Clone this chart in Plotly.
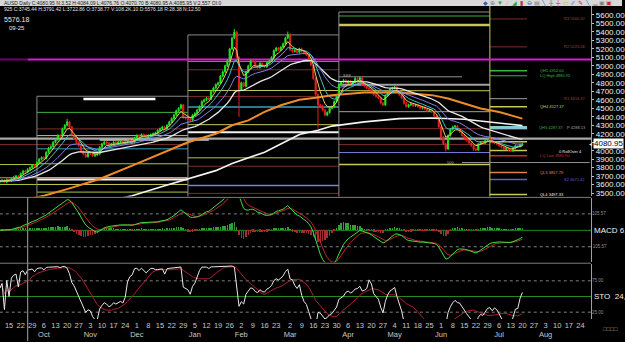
import numpy as np
import pandas as pd
import plotly.graph_objects as go

# ---------------- data ----------------
start_date = "2011-09-09"
close = [
    3640, 3650, 3630, 3660, 3645, 3670, 3690, 3700, 3680, 3730,
    3760, 3750, 3780, 3800, 3830, 3820, 3860, 3900, 3920, 3910,
    3980, 4030, 4050, 4100, 4130, 4180, 4170, 4260, 4300, 4340,
    4280, 4180, 4140, 4100, 4060, 3990, 3960, 3930, 3970, 3960,
    3940, 3950, 3960, 4040, 4080, 4100, 4090, 4070, 4080, 4100,
    4090, 4100, 4110, 4090, 4100, 4120, 4110, 4100, 4150, 4180,
    4170, 4190, 4180, 4170, 4180, 4190, 4200, 4210, 4240, 4260,
    4280, 4260, 4300, 4340, 4380, 4420, 4470, 4500, 4540, 4390,
    4380, 4370, 4360, 4420, 4440, 4480, 4520, 4580, 4600, 4620,
    4610, 4700, 4740, 4780, 4800, 4880, 4930, 5000, 5060, 5200,
    5330, 5400, 5100, 4720, 4800, 4760, 4930, 5000, 5060, 5050,
    5000, 4980, 5030, 5000, 4990, 5040, 5060, 5100, 5180, 5210,
    5190, 5220, 5260, 5330, 5370, 5190, 5170, 5180, 5160, 5200,
    5170, 5150, 5130, 5080, 5010, 4850, 4660, 4540, 4530, 4480,
    4420, 4450, 4500, 4520, 4580, 4640, 4780, 4810, 4830, 4800,
    4820, 4790, 4810, 4850, 4840, 4860, 4780, 4760, 4740, 4730,
    4690, 4660, 4640, 4620, 4560, 4540, 4650, 4700, 4730, 4740,
    4750, 4700, 4660, 4620, 4560, 4520, 4540, 4550, 4530, 4540,
    4520, 4500, 4510, 4490, 4470, 4480, 4460, 4410, 4380, 4280,
    4160, 4080, 4020, 4180, 4250, 4280, 4290, 4250, 4220, 4180,
    4150, 4120, 4090, 4060, 4020, 4010, 4080, 4100, 4090, 4120,
    4140, 4130, 4100, 4090, 4080, 4060, 4040, 4020, 4030, 4010,
    4000, 4030, 4060, 4050, 4070, 4080.95,
]
first_open = 3630
wick_up = {29: 35, 101: 35, 124: 35, 79: 10, 153: 20}
wick_dn = {103: 320, 137: 280, 192: 30, 190: 40, 204: 25}
default_wick = 14

# long moving averages (bar index, value)
orange_ma_idx = [10, 19, 29, 43, 57, 71, 81, 93, 100, 107, 114, 121, 129, 136, 143, 157, 172, 186, 193, 200, 207, 215, 225]
orange_ma_val = [3420, 3468, 3547, 3666, 3824, 3982, 4100, 4200, 4300, 4358, 4457, 4536, 4600, 4623, 4655, 4686, 4686, 4655, 4615, 4556, 4497, 4457, 4378]
white_ma_idx = [45, 57, 71, 81, 93, 100, 114, 129, 137, 143, 157, 172, 186, 200, 215, 225]
white_ma_val = [3400, 3468, 3587, 3666, 3765, 3850, 3982, 4190, 4240, 4290, 4340, 4378, 4385, 4370, 4330, 4296]

tick_dates = ["2011-09-15", "2011-09-22", "2011-09-29", "2011-10-06", "2011-10-13", "2011-10-20", "2011-10-27",
              "2011-11-03", "2011-11-10", "2011-11-17", "2011-11-24", "2011-12-01", "2011-12-08", "2011-12-15",
              "2011-12-22", "2011-12-29", "2012-01-05", "2012-01-12", "2012-01-19", "2012-01-26", "2012-02-02",
              "2012-02-09", "2012-02-16", "2012-02-23", "2012-03-02", "2012-03-09", "2012-03-16", "2012-03-23",
              "2012-03-30", "2012-04-06", "2012-04-13", "2012-04-20", "2012-04-27", "2012-05-04", "2012-05-11",
              "2012-05-18", "2012-05-25", "2012-06-01", "2012-06-08", "2012-06-15", "2012-06-22", "2012-06-29",
              "2012-07-06", "2012-07-13", "2012-07-20", "2012-07-27", "2012-08-03", "2012-08-10", "2012-08-17",
              "2012-08-24"]
month_names = {10: "Oct", 11: "Nov", 12: "Dec", 1: "Jan", 2: "Feb", 3: "Mar", 4: "Apr",
               5: "May", 6: "Jun", 7: "Jul", 8: "Aug"}

quarter_starts = ["2011-10-03", "2012-01-02", "2012-04-02", "2012-07-02"]
quarter_tops = [4642, 5365, 5635, 5706]
# pivot levels per quarter: (price, colour-key, width)
levels_q3_2011 = [(4072, "brown", 1), (3837, "ygreen", 1), (3681, "salmon", 1), (3602, "ygreen", 1)]
levels_q4_2011 = [(4452, "green", 1), (4257, "brown", 1), (4178, "yellow", 1), (4072, "brown", 1),
                  (4022, "teal", 1), (3846, "ygreen", 1), (3681, "salmon", 1.5), (3661, "white", 2),
                  (3602, "yellow", 1), (3512, "ygreen", 1)]
levels_q1_2012 = [(5051, "green", 1), (4954, "brown", 1), (4710, "yellow", 1), (4640, "brown", 1),
                  (4515, "teal", 1.5), (4307, "yellow", 1), (4217, "white", 2), (3916, "ygreen", 1),
                  (3817, "brown", 1), (3591, "lavender", 1.5), (3497, "brown", 1)]
levels_q2_2012 = [(5588, "green", 1), (5482, "yellow", 2.5), (4777, "grey", 2), (4707, "yellow", 1),
                  (4460, "grey", 1), (4260, "brown", 1), (4072, "brown", 1), (3978, "lavender", 1),
                  (3837, "yellow", 1.5)]
levels_q3_2012 = [(5553, "brown", 1), (5224, "brown", 1), (4942, "green", 1.5), (4883, "green", 1),
                  (4613, "grey", 1), (4519, "yellow", 1.5), (4272, "cyan", 3.5), (4250, "brown", 1),
                  (4105, "yellow", 1.5), (4002, "yellow", 1.5), (3941, "red", 1.5), (3743, "orange", 1.5),
                  (3661, "slate", 1.5), (3485, "yellow", 1.5)]
q3_2012_labels = [(5553, "R3 5560.32", "brown", 565), (5224, "R2 5225.06", "brown", 565),
                  (4942, "QH5 4952.00", "green", 541), (4883, "LQ High 4880.95", "green", 541),
                  (4613, "R1 4616.37", "brown", 565), (4519, "QH4 4527.37", "yellow", 541),
                  (4272, "QH3 4287.37", "green", 540), (4272, "P 4288.13", "grey", 568),
                  (3990, "0 RollOver 4", "white", 560), (3941, "LQ Low 3980.90", "red", 541),
                  (3743, "QL3 3817.79", "salmon", 541), (3661, "S2 3671.42", "slate", 565),
                  (3485, "QL4 3497.33", "white", 541)]
magenta_level = 5075
global_level = 4143
last_price = 4080.95
white_segment = (36, 67, 4609)
grey_segment = (43, 90, 4128)
low_grey_level = (199, 254, 3861)

palette = {"brown": "#7a2e2e", "ygreen": "#a8c840", "salmon": "#e08a60", "green": "#3cb43c",
           "yellow": "#c8c858", "teal": "#3aa0b8", "white": "#f0f0f0", "lavender": "#7c7ce0",
           "grey": "#a0a0a0", "cyan": "#88c8d8", "red": "#c03030", "orange": "#e08050",
           "slate": "#6060c0"}

# ---------------- derived ----------------
n = len(close)
all_days = pd.bdate_range(start_date, "2012-08-31")
pos = {d.strftime("%Y-%m-%d"): i for i, d in enumerate(all_days)}
x = list(range(n))
opens = [first_open] + close[:-1]
highs = [max(o, c) + wick_up.get(i, default_wick) for i, (o, c) in enumerate(zip(opens, close))]
lows = [min(o, c) - wick_dn.get(i, default_wick) for i, (o, c) in enumerate(zip(opens, close))]

cs = pd.Series(close, dtype=float)
hs = pd.Series(highs, dtype=float)
ls = pd.Series(lows, dtype=float)
ema = lambda s, k: s.ewm(span=k, adjust=False).mean()
macd = ema(cs, 9) - ema(cs, 26)
signal = ema(macd, 5)
hist = macd - signal
kper = 24
hh = hs.rolling(kper, min_periods=1).max()
ll = ls.rolling(kper, min_periods=1).min()
stok = 100 * (cs - ll) / (hh - ll).replace(0, np.nan)
stok = stok.fillna(50)
stod = stok.rolling(12, min_periods=1).mean()

W, H = 625, 342
def py(px):
    return 1 - px / H

fig = go.Figure()

# ribbon EMAs
ribbon = [(34, "#e8e8e8", 1.3), (20, "#8080e8", 1), (10, "#40c0c8", 1), (5, "#e0d060", 1)]
fig.add_trace(go.Scatter(x=orange_ma_idx, y=orange_ma_val, mode="lines",
                         line=dict(color="#f08c28", width=2), hoverinfo="skip"))
fig.add_trace(go.Scatter(x=white_ma_idx, y=white_ma_val, mode="lines",
                         line=dict(color="#f4f4f4", width=1.6), hoverinfo="skip"))
for k, col, w in ribbon:
    fig.add_trace(go.Scatter(x=x, y=ema(cs, k), mode="lines", line=dict(color=col, width=w),
                             hoverinfo="skip"))

fig.add_trace(go.Candlestick(x=x, open=opens, high=highs, low=lows, close=close,
                             increasing=dict(line=dict(color="#20e020", width=1), fillcolor="#30ff30"),
                             decreasing=dict(line=dict(color="#e02020", width=1), fillcolor="#ff2020"),
                             whiskerwidth=0, xaxis="x", yaxis="y"))

# MACD
fig.add_trace(go.Bar(x=x, y=hist, marker=dict(color=["#30a030" if v >= 0 else "#a03030" for v in hist],
                                              line=dict(width=0)),
                     width=0.25, xaxis="x", yaxis="y2"))
fig.add_trace(go.Scatter(x=x, y=signal, mode="lines", line=dict(color="#c02828", width=1), xaxis="x", yaxis="y2"))
fig.add_trace(go.Scatter(x=x, y=macd, mode="lines", line=dict(color="#40e040", width=1), xaxis="x", yaxis="y2"))

# Stochastic
fig.add_trace(go.Scatter(x=x, y=stod, mode="lines", line=dict(color="#b02030", width=1), xaxis="x", yaxis="y3"))
fig.add_trace(go.Scatter(x=x, y=stok, mode="lines", line=dict(color="#e8e8e8", width=1), xaxis="x", yaxis="y3"))

shapes = []
def hline(x0, x1, yv, color, width=1, yref="y", dash="solid"):
    shapes.append(dict(type="line", xref="x", yref=yref, x0=x0, x1=x1, y0=yv, y1=yv,
                       line=dict(color=color, width=width, dash=dash), layer="below"))

qidx = [pos[d] for d in quarter_starts]
edges = [0] + qidx + [227]
all_levels = [levels_q3_2011, levels_q4_2011, levels_q1_2012, levels_q2_2012, levels_q3_2012]
for b, lev in enumerate(all_levels):
    for p, ck, w in lev:
        hline(edges[b], edges[b + 1], p, palette[ck], w)
# quarter box tops / verticals
for b in range(4):
    xa = qidx[b]
    xb = qidx[b + 1] if b < 3 else 227
    col = "#c8c858" if b == 3 else "#8a8a8a"
    shapes.append(dict(type="line", xref="x", yref="y", x0=xa, x1=xa, y0=3300, y1=quarter_tops[b],
                       line=dict(color=col, width=1), layer="below"))
    if b < 3:
        hline(xa, xb, quarter_tops[b], "#8a8a8a", 1)
hline(qidx[2], 199, 4871, "#909090", 1)
hline(white_segment[0], white_segment[1], white_segment[2], "#ffffff", 2.5)
hline(grey_segment[0], grey_segment[1], grey_segment[2], "#c8c8c8", 2)
hline(low_grey_level[0], low_grey_level[1], low_grey_level[2], "#909090", 1)
hline(0, 255, global_level, "#a8a8a8", 2.2)
hline(0, 12, magenta_level, "#700070", 2)
hline(12, 255, magenta_level, "#d81cd8", 2)

# indicator guide lines
hline(0, 255, 0, "#208a20", 1, "y2")
hline(0, 255, 105.57, "#808080", 1, "y2", "dot")
hline(0, 255, -105.57, "#808080", 1, "y2", "dot")
hline(0, 255, 50, "#208a20", 1, "y3")
hline(0, 255, 75, "#808080", 1, "y3", "dot")
hline(0, 255, 25, "#808080", 1, "y3", "dot")

# panel separators, crosshair, top strip
for pxl in (198, 264):
    shapes.append(dict(type="line", xref="paper", yref="paper", x0=0, x1=594 / W, y0=py(pxl), y1=py(pxl),
                       line=dict(color="#7a7a7a", width=1)))
shapes.append(dict(type="line", xref="x", yref="paper", x0=12, x1=12, y0=0, y1=py(198),
                   line=dict(color="#8a8a8a", width=1.2)))
shapes.append(dict(type="rect", xref="paper", yref="paper", x0=0, x1=1, y0=py(6), y1=1,
                   fillcolor="#d8d8d8", line=dict(width=0)))

ann = []
def txt(xp, ypx, s, color, size=5, anchor="left", bg=None, yref="paper", yval=None):
    d = dict(x=xp / W, xref="paper", y=(py(ypx) if yval is None else yval), yref=yref, text=s,
             showarrow=False, xanchor=anchor, yanchor="middle",
             font=dict(color=color, size=size, family="Liberation Sans, Arial"))
    if bg:
        d.update(bgcolor=bg, borderpad=0)
    ann.append(d)

txt(2, 3, "AUSD Daily C:4080.95 N:3.52 H:4084.09 L:4076.76 O:4070.70 B:4080.95 A:4085.95 V:2,557 OI:0", "#202020", 5)
txt(2, 9, "925 C:3745.44 H:3791.42 L:3722.86 O:3738.77 V:108.2K.10 D:5576.18 R:28.38 N:12.50", "#e0e0e0", 5)
txt(2, 20, "5576.18", "#e8e8e8", 7)
txt(7, 28, "09-25", "#e8e8e8", 6)
icons = [("◆", "#3060c0"), ("⊕", "#808080"), ("▼", "#30a030"), ("∕", "#d0a030"), ("◢", "#30a030"),
         ("▮", "#c03030"), ("⊖", "#3060c0"), ("▤", "#808080"), ("╲", "#3060c0"), ("╫", "#808080"),
         ("┼", "#c03030"), ("▭", "#c0c030"), ("∕∕", "#3060c0"), ("✎", "#c03030"), ("╲", "#3060c0"),
         ("▁", "#808080"), ("▣", "#808080"), ("▣", "#c03030")]
for j, (g, c) in enumerate(icons):
    txt(488 + j * 7.3, 3, g, c, 6, "center")

for p, s, ck, xp in q3_2012_labels:
    txt(xp, 0, s, palette[ck] if ck != "brown" else "#a04040", 4, yref="y", yval=p)
txt(343, 0, "SSS", "#b0b0b0", 4, yref="y", yval=4885)
txt(447, 0, "500", "#b0b0b0", 4, yref="y", yval=3861)

# last price tag
txt(596, 0, "4080.95", "#000000", 8, bg="#ffffff", yref="y", yval=last_price)
txt(589, 0, "◄", "#e0e0e0", 5, yref="y", yval=last_price)

# indicator labels
txt(593, 0, "105.57", "#909090", 4.5, yref="y2", yval=105.57)
txt(591, 0, "- 105.57", "#909090", 4.5, yref="y2", yval=-105.57)
txt(595, 0, "MACD 6,", "#f0f0f0", 8, yref="y2", yval=0)
txt(593, 0, "75.00", "#909090", 4.5, yref="y3", yval=75)
txt(593, 0, "25.00", "#909090", 4.5, yref="y3", yval=25)
txt(595, 0, "STO  24,", "#f0f0f0", 8, yref="y3", yval=50)
txt(604, 330, "□□□□", "#a0a0a0", 6)

tickvals = [pos[d] for d in tick_dates]
ticktext = []
prev_month = 9
for d in tick_dates:
    dt = pd.Timestamp(d)
    s = str(dt.day)
    if dt.month != prev_month:
        s += "<br>" + month_names[dt.month]
        prev_month = dt.month
    ticktext.append(s)

yt = list(range(3500, 5700, 100))
yt_text = ["" if abs(v - last_price) < 50 else f"{v:.2f}" for v in yt]
fig.update_layout(
    width=W, height=H, margin=dict(l=0, r=0, t=0, b=0),
    paper_bgcolor="#000000", plot_bgcolor="#000000", showlegend=False,
    shapes=shapes, annotations=ann, bargap=0,
    xaxis=dict(domain=[0, 594 / W], range=[0.1, 254.6], anchor="y3", showgrid=False, zeroline=False,
               rangeslider=dict(visible=False), tickvals=tickvals, ticktext=ticktext, tickangle=0,
               tickfont=dict(color="#c8c8c8", size=7.5, family="Liberation Sans, Arial"),
               ticks="", showline=False),
    yaxis=dict(domain=[py(197), py(6)], range=[3461, 5706], side="right", anchor="x",
               tickvals=yt, ticktext=yt_text, ticks="outside", ticklen=2,
               tickcolor="#c0c0c0", showgrid=False, zeroline=False, showline=True, linecolor="#a0a0a0",
               tickfont=dict(color="#f0f0f0", size=8, family="Liberation Sans, Arial")),
    yaxis2=dict(domain=[py(263), py(199)], range=[-205, 205], anchor="x", side="right",
                showticklabels=False, showgrid=False, zeroline=False, showline=True, linecolor="#a0a0a0"),
    yaxis3=dict(domain=[py(320), py(265)], range=[14, 101.5], anchor="x", side="right",
                showticklabels=False, showgrid=False, zeroline=False, showline=True, linecolor="#a0a0a0"),
)
fig.write_html("out.html")
